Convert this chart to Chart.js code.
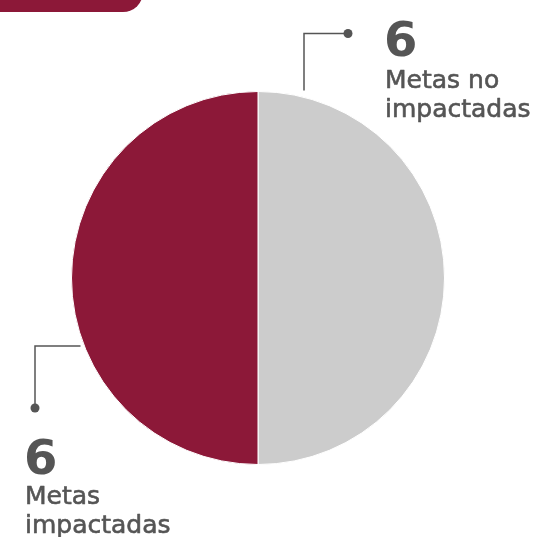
<!DOCTYPE html>
<html lang="es">
<head>
<meta charset="utf-8">
<title>Metas impactadas</title>
<script src="https://cdn.jsdelivr.net/npm/chart.js@4/dist/chart.umd.min.js"></script>
<style>
  html, body { margin: 0; padding: 0; background: #fff; }
  .wrap { position: relative; width: 534px; height: 537px; overflow: hidden; }
  .tab {
    position: absolute; left: 0; top: -8px; width: 143px; height: 20px;
    background: #8c1838; border-bottom-right-radius: 20px;
  }
  canvas { position: absolute; left: 0; top: 0; }
</style>
</head>
<body>
<div class="wrap">
  <div class="tab"></div>
  <canvas id="pie" width="534" height="537"></canvas>
</div>
<script>
const categories = ["Metas no impactadas", "Metas impactadas"];
const values = [6, 6];
const labelLines = [["Metas no", "impactadas"], ["Metas", "impactadas"]];
const colors = ["#cccccc", "#8c1838"];

const textColor = "#555555";
const numFont = "bold 48px 'DejaVu Sans'";
const labelFont = "25px 'DejaVu Sans'";

function dot(ctx, x, y) {
  ctx.beginPath();
  ctx.arc(x, y, 4.5, 0, Math.PI * 2);
  ctx.fill();
}

// leader lines + big numbers next to each half
const calloutPlugin = {
  id: "callouts",
  afterDatasetsDraw(chart) {
    const arc = chart.getDatasetMeta(0).data[0];
    if (!arc) return;
    const cx = arc.x, cy = arc.y, r = arc.outerRadius;
    const ctx = chart.ctx;
    ctx.save();
    ctx.strokeStyle = textColor;
    ctx.fillStyle = textColor;
    ctx.lineWidth = 1.5;

    // top right: not impacted
    const tx = cx + 46;
    ctx.beginPath();
    ctx.moveTo(tx, cy - r - 1);
    ctx.lineTo(tx, cy - r - 58);
    ctx.lineTo(cx + 90, cy - r - 58);
    ctx.stroke();
    dot(ctx, cx + 90, cy - r - 58);

    // bottom left: impacted
    const by = cy + 68;
    ctx.beginPath();
    ctx.moveTo(cx - r + 9, by);
    ctx.lineTo(cx - 223, by);
    ctx.lineTo(cx - 223, cy + 130);
    ctx.stroke();
    dot(ctx, cx - 223, cy + 130);

    ctx.textAlign = "left";
    ctx.textBaseline = "alphabetic";
    ctx.lineWidth = 0.6;
    ctx.lineJoin = "round";

    const spots = [
      { x: cx + 126, y: cy - r - 36 },
      { x: cx - 234, y: cy + 196 },
    ];
    spots.forEach((s, i) => {
      ctx.font = numFont;
      ctx.fillText(String(values[i]), s.x, s.y);
      ctx.font = labelFont;
      labelLines[i].forEach((line, j) => {
        const y = s.y + (i === 0 ? 32 : 30) + j * 29;
        ctx.fillText(line, s.x + 1, y);
        ctx.strokeText(line, s.x + 1, y);
      });
    });
    ctx.restore();
  },
};

new Chart(document.getElementById("pie"), {
  type: "pie",
  data: {
    labels: categories,
    datasets: [
      {
        data: values,
        backgroundColor: colors,
        borderColor: "#ffffff",
        borderWidth: 1,
      },
    ],
  },
  options: {
    responsive: false,
    animation: false,
    layout: { padding: { left: 71, right: 89, top: 91, bottom: 72 } },
    plugins: {
      legend: { display: false },
      tooltip: { enabled: false },
    },
  },
  plugins: [calloutPlugin],
});
</script>
</body>
</html>
